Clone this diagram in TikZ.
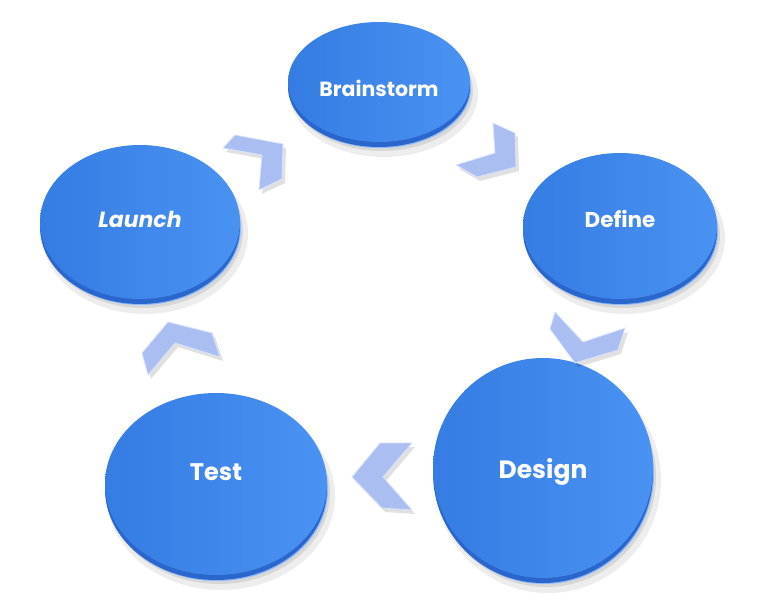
\documentclass[tikz,border=0pt]{standalone}
\usepackage{fontspec}
\setmainfont{Poppins}
\usetikzlibrary{shapes.geometric}
\definecolor{diskA}{HTML}{357CE3}
\definecolor{diskB}{HTML}{4A92F2}
\definecolor{rimc}{HTML}{2A66CC}
\definecolor{rimhi}{HTML}{8CB9F8}
\definecolor{chev}{HTML}{AABEF1}
\definecolor{chevhi}{HTML}{D8E2FB}
\tikzset{
  disk/.style={ellipse, inner sep=0pt, left color=diskA, right color=diskB, text=white},
  chevron/.style={fill=chev, draw=chevhi, line width=0.8pt, line join=round},
  chevshadow/.style={fill=black, opacity=0.12},
  label/.style={text=white, inner sep=0pt},
}
\begin{document}
\begin{tikzpicture}[x=1pt,y=-1pt]
\fill[white] (0,0) rectangle (760,609);
\useasboundingbox (0,0) rectangle (760,609);
\foreach \n/\x/\y/\rx/\ry/\ty/\t/\fs in {
  brain/379/82/91/60/88/{Brainstorm}/20.5,
  define/620/226/97/73/219/{Define}/21.5,
  design/543/468/110/110/472/{Design}/25,
  test/216/484/111/91/472/{Test}/24,
  launch/140/222/100/77/219/{\itshape Launch}/22}{
  \fill[black,opacity=0.07] (\x+5,\y+12) ellipse ({(\rx+3)*1pt} and {(\ry+3)*1pt});
  \fill[black,opacity=0.09] (\x+3,\y+9) ellipse ({\rx*1pt} and {\ry*1pt});
  \fill[rimhi] (\x+1,\y+6) ellipse ({\rx*1pt} and {\ry*1pt});
  \fill[rimc] (\x,\y+5) ellipse ({\rx*1pt} and {\ry*1pt});
  \node[disk, minimum width={2*\rx*1pt}, minimum height={2*\ry*1pt}] (\n) at (\x,\y) {};
  \node[label, font={\bfseries\fontsize{\fs}{\fs}\selectfont}] (\n-t) at (\x,\ty) {\t};
}
% chevrons
\foreach \p in {
  {(223,148) -- (235,135) -- (283,144) -- (282,179) -- (259,190) -- (262,155) -- cycle},
  {(493,123) -- (515,133) -- (516,167) -- (477,177) -- (456,165) -- (495,153) -- cycle},
  {(555,312) -- (583,342) -- (625,328) -- (618,350) -- (575,363) -- (550,329) -- cycle},
  {(352,477) -- (380,443) -- (412,443) -- (383,477) -- (412,510) -- (382,508) -- cycle},
  {(142,353) -- (168,322) -- (212,333) -- (220,357) -- (175,343) -- (148,375) -- cycle}}{
  \begin{scope}[shift={(3,4)}]\fill[chevshadow] \p;\end{scope}
  \path[chevron] \p;
}
\end{tikzpicture}
\end{document}
